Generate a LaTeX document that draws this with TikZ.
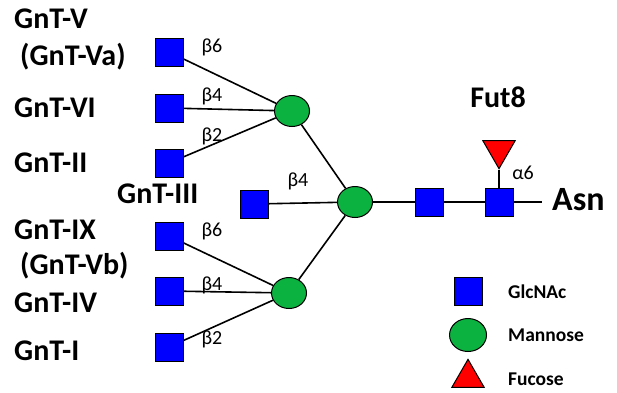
\documentclass[tikz,border=0pt]{standalone}
\usepackage{fontspec}
\setmainfont{Carlito}
\usetikzlibrary{shapes.geometric}
\definecolor{mangreen}{RGB}{12,178,64}
\begin{document}
\begin{tikzpicture}[x=1pt,y=-1pt,
  glcnac/.style={draw=black,fill=blue,minimum size=28pt,inner sep=0pt,line width=1pt},
  mannose/.style={draw=black,fill=mangreen,ellipse,minimum width=35pt,minimum height=31pt,inner sep=0pt,line width=1pt},
  fucose/.style={draw=black,fill=red,isosceles triangle,isosceles triangle apex angle=60,minimum height=28pt,inner sep=0pt,line width=1pt},
  bond/.style={line width=1.6pt},
  enz/.style={font=\fontsize{30}{32}\selectfont\bfseries,anchor=west,inner sep=0pt},
  link/.style={font=\fontsize{20}{22}\selectfont,inner sep=0pt},
  key/.style={font=\fontsize{19.5}{22}\selectfont\bfseries,anchor=west,inner sep=0pt}]
\useasboundingbox (0,0) rectangle (617,392);

% antenna GlcNAc residues
\node[glcnac] (a1) at (169,52) {};
\node[glcnac] (a2) at (169,108) {};
\node[glcnac] (a3) at (169,163) {};
\node[glcnac] (b1) at (169,236) {};
\node[glcnac] (b2) at (169,291) {};
\node[glcnac] (b3) at (169,347) {};
\node[glcnac] (bis) at (254,204) {};

% mannose branch points
\node[mannose] (m1) at (292,111) {};
\node[mannose] (m2) at (289,293) {};
\node[mannose] (m0) at (355,202) {};

% chitobiose core and fucose
\node[glcnac] (c1) at (429,202) {};
\node[glcnac] (c2) at (499,202) {};
\node[fucose,shape border rotate=-90] (fuc) at (499,150) {};
\coordinate (asnend) at (542,202);

% glycosidic bonds
\draw[bond] (a1) -- (m1);
\draw[bond] (a2) -- (m1);
\draw[bond] (a3) -- (m1);
\draw[bond] (b1) -- (m2);
\draw[bond] (b2) -- (m2);
\draw[bond] (b3) -- (m2);
\draw[bond] (m1) -- (m0);
\draw[bond] (m2) -- (m0);
\draw[bond] (bis) -- (m0);
\draw[bond] (m0) -- (c1);
\draw[bond] (c1) -- (c2);
\draw[bond] (c2) -- (asnend);
\draw[bond] (fuc.apex) -- (c2);

% linkage labels
\node[link] (l1) at (212,47) {β6};
\node[link] (l2) at (212,96) {β4};
\node[link] (l3) at (212,136) {β2};
\node[link] (l4) at (212,231) {β6};
\node[link] (l5) at (212,285) {β4};
\node[link] (l6) at (212,339) {β2};
\node[link] (l7) at (298,181) {β4};
\node[link] (l8) at (523,173) {α6};

% enzyme names
\node[enz] (e1) at (14,19) {GnT-V};
\node[enz] (e2) at (20,57) {(GnT-Va)};
\node[enz] (e3) at (14,108) {GnT-VI};
\node[enz] (e4) at (14,163) {GnT-II};
\node[enz] (e5) at (117,194) {GnT-III};
\node[enz] (e6) at (14,230) {GnT-IX};
\node[enz] (e7) at (20,266) {(GnT-Vb)};
\node[enz] (e8) at (14,303) {GnT-IV};
\node[enz] (e9) at (14,351) {GnT-I};
\node[enz,anchor=center] (fut) at (498,97) {Fut8};
\node[enz,font=\fontsize{34}{36}\selectfont\bfseries] (asn) at (552,200) {Asn};

% legend
\node[glcnac] (k1) at (468,291) {};
\node[mannose,minimum width=37pt,minimum height=33pt] (k2) at (468,335) {};
\node[fucose,shape border rotate=90] (k3) at (468,378) {};
\node[key] (t1) at (508,292) {GlcNAc};
\node[key] (t2) at (508,335) {Mannose};
\node[key] (t3) at (508,379) {Fucose};
\end{tikzpicture}
\end{document}
